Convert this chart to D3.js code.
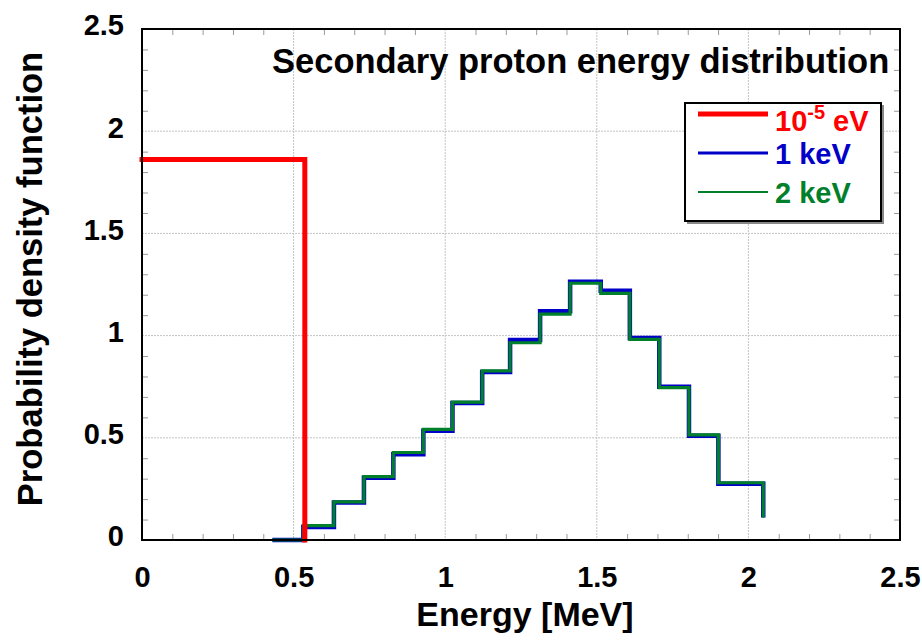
<!DOCTYPE html>
<html>
<head>
<meta charset="utf-8">
<script src="https://cdn.jsdelivr.net/npm/d3@7"></script>
<style>
  html, body { margin: 0; padding: 0; background: #fff; }
  svg { display: block; font-family: "Liberation Sans", Arial, sans-serif; font-weight: bold; }
</style>
</head>
<body>
<svg id="chart" width="922" height="640"></svg>
<script>
// ---- data ----
const xTicks = [0, 0.5, 1, 1.5, 2, 2.5];
const yTicks = [0, 0.5, 1, 1.5, 2, 2.5];
const xTickLabels = ["0", "0.5", "1", "1.5", "2", "2.5"];
const yTickLabels = ["0", "0.5", "1", "1.5", "2", "2.5"];

// red series (10^-5 eV): flat level then drop
const redX = [0, 0.537, 0.537];
const redY = [1.862, 1.862, 0];

// bin edges shared by the 1 keV and 2 keV histograms
const binEdges = [0.43, 0.532, 0.633, 0.732, 0.829, 0.928, 1.024, 1.122, 1.214, 1.313, 1.412, 1.513, 1.609, 1.706, 1.804, 1.901, 2.049];
const blueLevels  = [0, 0.064, 0.183, 0.305, 0.420, 0.535, 0.670, 0.822, 0.978, 1.119, 1.264, 1.220, 0.988, 0.750, 0.510, 0.275];
const greenLevels = [0, 0.070, 0.187, 0.310, 0.428, 0.541, 0.675, 0.827, 0.965, 1.105, 1.256, 1.207, 0.982, 0.745, 0.514, 0.280];
const blueEnd = 0.11;
const greenEnd = 0.11;

const seriesNames = ["1 keV", "2 keV"];

// ---- layout ----
const svg = d3.select("#chart");
const L = 142, R = 900, T = 29, B = 540;
const x = d3.scaleLinear().domain([0, 2.5]).range([L, R]);
const y = d3.scaleLinear().domain([0, 2.5]).range([B, T]);

// grid lines
const grid = svg.append("g");
xTicks.filter(v => v > 0 && v < 2.5).forEach(v => {
  grid.append("line").attr("x1", x(v)).attr("x2", x(v)).attr("y1", T).attr("y2", B)
    .attr("stroke", "#c4c4c4").attr("stroke-width", 1).attr("stroke-dasharray", "2,1");
});
yTicks.filter(v => v > 0 && v < 2.5).forEach(v => {
  grid.append("line").attr("x1", L).attr("x2", R).attr("y1", y(v)).attr("y2", y(v))
    .attr("stroke", "#c4c4c4").attr("stroke-width", 1).attr("stroke-dasharray", "2,1");
});

// minor ticks (inside, all four sides) via d3 axes
const minor = d3.range(0, 2.51, 0.1).map(v => +v.toFixed(2)).filter(v => Math.abs(v * 2 - Math.round(v * 2)) > 1e-6);
function styleMinor(g) {
  g.select(".domain").remove();
  g.selectAll("text").remove();
  g.selectAll(".tick line").attr("stroke", "#9a9a9a").attr("stroke-width", 1);
}
svg.append("g").attr("transform", `translate(0,${B})`)
  .call(d3.axisTop(x).tickValues(minor).tickSize(6).tickFormat("")).call(styleMinor);
svg.append("g").attr("transform", `translate(0,${T})`)
  .call(d3.axisBottom(x).tickValues(minor).tickSize(6).tickFormat("")).call(styleMinor);
svg.append("g").attr("transform", `translate(${L},0)`)
  .call(d3.axisRight(y).tickValues(minor).tickSize(6).tickFormat("")).call(styleMinor);
svg.append("g").attr("transform", `translate(${R},0)`)
  .call(d3.axisLeft(y).tickValues(minor).tickSize(6).tickFormat("")).call(styleMinor);

// tick labels via d3 axes
const xAx = svg.append("g").attr("transform", `translate(0,${B})`)
  .call(d3.axisBottom(x).tickValues(xTicks).tickSize(0).tickPadding(0).tickFormat((d, i) => xTickLabels[i]));
xAx.select(".domain").remove();
xAx.selectAll("text").attr("font-size", 29).attr("font-weight", "bold").attr("fill", "#000")
  .attr("font-family", "Liberation Sans, Arial, sans-serif").attr("dy", null).attr("y", 47);

const yAx = svg.append("g").attr("transform", `translate(${L},0)`)
  .call(d3.axisLeft(y).tickValues(yTicks).tickSize(0).tickPadding(0).tickFormat((d, i) => yTickLabels[i]));
yAx.select(".domain").remove();
yAx.selectAll("text").attr("font-size", 29).attr("font-weight", "bold").attr("fill", "#000")
  .attr("font-family", "Liberation Sans, Arial, sans-serif").attr("x", -18).attr("dy", "0.2em");

// series
const line = d3.line().x(d => x(d[0])).y(d => y(d[1]));
const stepLine = d3.line().x(d => x(d[0])).y(d => y(d[1])).curve(d3.curveStepAfter);

function histPoints(levels, endVal) {
  const pts = levels.map((v, i) => [binEdges[i], v]);
  pts.push([binEdges[binEdges.length - 1], levels[levels.length - 1]]);
  pts.push([binEdges[binEdges.length - 1], endVal]);
  return pts;
}

svg.append("path").attr("d", stepLine(histPoints(blueLevels, blueEnd)))
  .attr("fill", "none").attr("stroke", "#0000c8").attr("stroke-width", 4.5);
svg.append("path").attr("d", stepLine(histPoints(greenLevels, greenEnd)))
  .attr("fill", "none").attr("stroke", "#00802a").attr("stroke-width", 3.2);
svg.append("path").attr("d", line(redX.map((v, i) => [v, redY[i]])))
  .attr("fill", "none").attr("stroke", "#ff0000").attr("stroke-width", 5).attr("stroke-linecap", "square");

// frame
svg.append("rect").attr("x", L).attr("y", T).attr("width", R - L).attr("height", B - T)
  .attr("fill", "none").attr("stroke", "#000").attr("stroke-width", 2);

// title
svg.append("text").attr("x", 272).attr("y", 73).attr("font-size", 34.5).attr("fill", "#000")
  .text("Secondary proton energy distribution");

// axis labels
svg.append("text").attr("x", 525).attr("y", 626).attr("text-anchor", "middle")
  .attr("font-size", 34).attr("fill", "#000").text("Energy [MeV]");
svg.append("text").attr("transform", "translate(42,279) rotate(-90)").attr("text-anchor", "middle")
  .attr("font-size", 34.5).attr("fill", "#000").text("Probability density function");

// legend
const lg = svg.append("g");
lg.append("rect").attr("x", 687).attr("y", 105).attr("width", 197).attr("height", 119)
  .attr("fill", "#888");
lg.append("rect").attr("x", 685).attr("y", 103).attr("width", 196).attr("height", 118)
  .attr("fill", "#fff").attr("stroke", "#000").attr("stroke-width", 2);
const legendItems = [
  { c: "#ff0000", w: 5, yy: 114 },
  { c: "#0000c8", w: 3, yy: 153 },
  { c: "#00802a", w: 2, yy: 192 }
];
legendItems.forEach(d => {
  lg.append("line").attr("x1", 698).attr("x2", 768).attr("y1", d.yy).attr("y2", d.yy)
    .attr("stroke", d.c).attr("stroke-width", d.w);
});
const t0 = lg.append("text").attr("x", 775).attr("y", 131).attr("font-size", 29).attr("fill", "#ff0000");
t0.append("tspan").text("10");
t0.append("tspan").attr("font-size", 20).attr("dy", -12).text("-5");
t0.append("tspan").attr("dy", 12).text(" eV");
lg.append("text").attr("x", 775).attr("y", 164).attr("font-size", 29).attr("fill", "#0000c8").text(seriesNames[0]);
lg.append("text").attr("x", 775).attr("y", 203).attr("font-size", 29).attr("fill", "#00802a").text(seriesNames[1]);
</script>
</body>
</html>
